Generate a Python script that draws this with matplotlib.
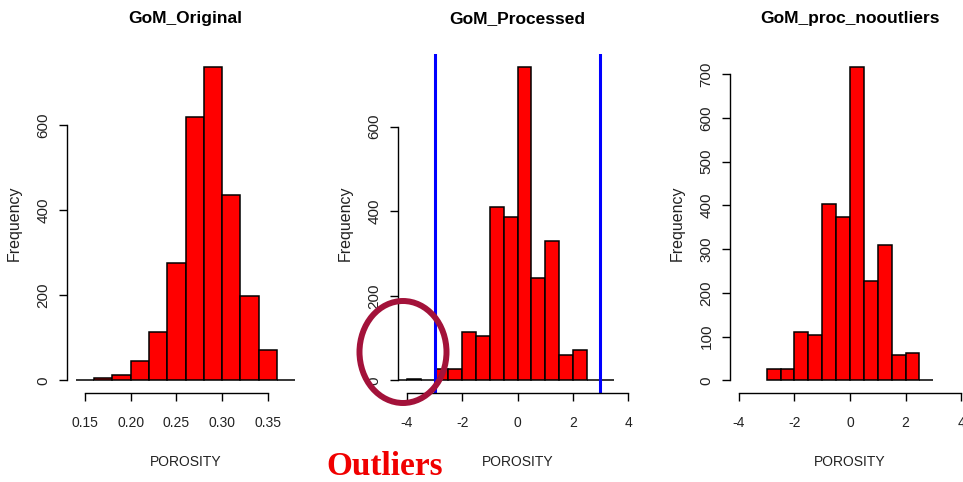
import matplotlib
matplotlib.use("Agg")
import matplotlib.pyplot as plt
from matplotlib.patches import Ellipse

# bin edges and counts for the three porosity histograms
orig_edges = [0.14, 0.16, 0.18, 0.20, 0.22, 0.24, 0.26, 0.28, 0.30, 0.32, 0.34, 0.36, 0.38]
orig_counts = [2, 5, 13, 45, 114, 276, 618, 737, 435, 198, 71, 2]

proc_edges = [-4.5, -4.0, -3.5, -3.0, -2.5, -2.0, -1.5, -1.0, -0.5, 0.0, 0.5, 1.0, 1.5, 2.0, 2.5, 3.0, 3.5]
proc_counts = [0, 4, 0, 26, 26, 114, 104, 409, 387, 742, 242, 330, 61, 71, 1, 1]

noout_edges = [-3.0, -2.5, -2.0, -1.5, -1.0, -0.5, 0.0, 0.5, 1.0, 1.5, 2.0, 2.5, 3.0]
noout_counts = [27, 27, 110, 104, 402, 374, 717, 227, 310, 59, 62, 2]

# cut-off lines used to flag outliers on the processed data
cutoffs = [-3, 3]

orig_xticks = [0.15, 0.20, 0.25, 0.30, 0.35]
orig_xlabels = ["0.15", "0.20", "0.25", "0.30", "0.35"]
std_xticks = [-4, -2, 0, 2, 4]
std_xlabels = ["-4", "-2", "0", "2", "4"]
yticks_600 = [0, 200, 400, 600]
yticks_700 = [0, 100, 200, 300, 400, 500, 600, 700]

NARROW = ["Liberation Sans Narrow", "Liberation Sans", "DejaVu Sans"]
REGULAR = ["Liberation Sans", "DejaVu Sans"]

W, H = 963, 482
fig = plt.figure(figsize=(W / 100, H / 100), dpi=100)


def draw_hist(rect, edges, counts, title, xrange_, xticks, xlabels, yticks):
    ax = fig.add_axes(rect)
    widths = [b - a for a, b in zip(edges[:-1], edges[1:])]
    ax.bar(edges[:-1], counts, width=widths, align="edge",
           color="#ff0000", edgecolor="black", linewidth=1.1)

    # R-style 4% padding around the data range
    lo, hi = xrange_
    pad = (hi - lo) * 0.04
    ax.set_xlim(lo - pad, hi + pad)
    top = max(counts)
    ax.set_ylim(-0.04 * top, 1.04 * top)

    for s in ("top", "right"):
        ax.spines[s].set_visible(False)
    ax.spines["left"].set_bounds(yticks[0], yticks[-1])
    ax.spines["bottom"].set_bounds(xticks[0], xticks[-1])
    for s in ("left", "bottom"):
        ax.spines[s].set_linewidth(1.0)

    ax.set_xticks(xticks)
    ax.set_xticklabels(xlabels, family=NARROW, fontsize=10, color="#222222")
    ax.set_yticks(yticks)
    ax.set_yticklabels([str(v) for v in yticks], family=REGULAR, fontsize=11,
                       color="#222222")
    ax.tick_params(axis="both", direction="out", length=5.8, width=1.0)
    ax.tick_params(axis="x", pad=11)
    ax.tick_params(axis="y", pad=6, labelrotation=90)
    for lab in ax.get_yticklabels():
        lab.set_va("center")

    ax.set_title(title, family=NARROW, fontsize=12.5, fontweight="bold",
                 y=1.0915, pad=0)
    ax.set_xlabel("POROSITY", family=NARROW, fontsize=10, color="#222222")
    ax.xaxis.label.set_va("center")
    ax.xaxis.set_label_coords(0.5, -0.2035)
    ax.set_ylabel("Frequency", family=REGULAR, fontsize=11.5, color="#222222")
    ax_w = rect[2] * W
    ax.yaxis.set_label_coords(-45 / ax_w, 0.5)
    return ax


bottom = 1 - 393 / H
height = (393 - 54) / H

ax1 = draw_hist([67 / W, bottom, 237 / W, height], orig_edges, orig_counts,
                "GoM_Original", (orig_edges[0], orig_edges[-1]),
                orig_xticks, orig_xlabels, yticks_600)
ax2 = draw_hist([398 / W, bottom, 239 / W, height], proc_edges, proc_counts,
                "GoM_Processed", (-4, 4), std_xticks, std_xlabels, yticks_600)
ax3 = draw_hist([730 / W, bottom, 240 / W, height], noout_edges, noout_counts,
                "GoM_proc_nooutliers", (-4, 4), std_xticks, std_xlabels, yticks_700)

for c in cutoffs:
    ax2.axvline(c, color="#0000ff", linewidth=2.2)

# highlight the points falling below the lower cut-off
ring = Ellipse((4.03, 4.82 - 3.52), 0.87, 1.02, transform=fig.dpi_scale_trans,
               fill=False, edgecolor="#a3123a", linewidth=4.3)
fig.add_artist(ring)
fig.text(385 / W, 1 - 475 / H, "Outliers", family=["Liberation Serif", "DejaVu Serif"],
         fontweight="bold", fontsize=24, color="#f00000", ha="center", va="baseline")

fig.savefig("out.png", dpi=100)
